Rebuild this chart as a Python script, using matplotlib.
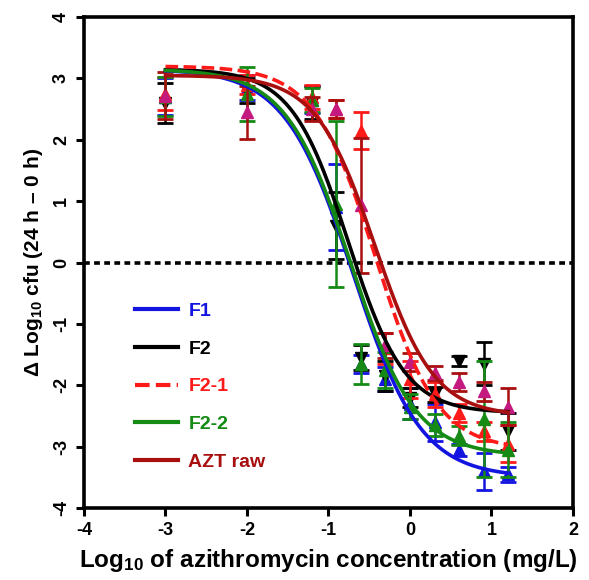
import numpy as np
import matplotlib.pyplot as plt
from matplotlib.lines import Line2D

plt.rcParams['font.family'] = ['Liberation Sans', 'DejaVu Sans']
plt.rcParams['font.weight'] = 'bold'
plt.rcParams['mathtext.fontset'] = 'custom'
plt.rcParams['mathtext.rm'] = 'Liberation Sans:bold'
plt.rcParams['mathtext.default'] = 'rm'
plt.rcParams['axes.unicode_minus'] = False

# azithromycin concentrations (mg/L)
conc = [0.001, 0.01, 0.0625, 0.125, 0.25, 0.5, 1, 2, 4, 8, 16]

names = ['F1', 'F2', 'F2-1', 'F2-2', 'AZT raw']

# mean delta log10 cfu and SD
f1_mean = [2.7, 2.85, 2.65, 0.9, -1.65, -1.9, -2.3, -2.6, -3.05, -3.4, -3.45]
f1_sd = [0.3, 0.2, 0.22, 0.7, 0.15, 0.2, 0.25, 0.3, 0.1, 0.3, 0.12]
f2_mean = [2.6, 2.8, 2.6, 0.6, -1.55, -1.85, -2.2, -2.15, -1.6, -1.65, -2.75]
f2_sd = [0.33, 0.2, 0.27, 0.55, 0.2, 0.25, 0.15, 0.12, 0.08, 0.35, 0.3]
f21_mean = [2.75, 2.9, 2.7, 2.5, 2.15, -1.4, -1.9, -2.15, -2.45, -2.75, -2.95]
f21_sd = [0.27, 0.15, 0.2, 0.15, 0.3, 0.25, 0.3, 0.2, 0.15, 0.15, 0.3]
f22_mean = [2.7, 2.75, 2.65, 0.95, -1.65, -1.75, -2.35, -2.65, -2.82, -2.55, -3.05]
f22_sd = [0.32, 0.44, 0.2, 1.35, 0.33, 0.3, 0.2, 0.18, 0.15, 0.95, 0.45]
azt_mean = [2.72, 2.45, 2.5, 2.5, 0.93, -1.35, -1.62, -1.8, -1.95, -2.1, -2.35]
azt_sd = [0.38, 0.43, 0.2, 0.15, 1.1, 0.2, 0.15, 0.12, 0.15, 0.15, 0.3]

# sigmoid Emax (Hill) fit parameters per formulation
top = [3.15, 3.15, 3.2, 3.15, 3.05]
bottom = [-3.5, -2.45, -3.05, -3.15, -2.5]
log_ec50 = [-0.70, -0.76, -0.42, -0.73, -0.43]
hill = [1.04, 1.25, 1.15, 1.09, 1.2]


def hill_curve(x, t, b, c, h):
    return b + (t - b) / (1 + 10 ** ((x - c) * h))


def main():
    x = np.log10(conc)
    means = [f1_mean, f2_mean, f21_mean, f22_mean, azt_mean]
    sds = [f1_sd, f2_sd, f21_sd, f22_sd, azt_sd]
    line_colors = ['#1414e0', '#000000', '#ff1a1a', '#158a15', '#a80f0f']
    marker_colors = ['#1414e0', '#000000', '#ff1a1a', '#158a15', '#c41a80']
    markers = ['^', 'v', '^', '^', '^']
    styles = ['-', '-', (0, (3.5, 1.5)), '-', '-']

    fig = plt.figure(figsize=(5.89, 5.80), dpi=100)
    ax = fig.add_axes([0.1426, 0.1241, 0.8302, 0.8466])

    ax.axhline(0, color='black', linewidth=2.6, linestyle=(0, (1.6, 1.2)), zorder=1)

    xf = np.linspace(x[0], x[-1], 300)
    handles = []
    for i in range(len(names)):
        ax.errorbar(x, means[i], yerr=sds[i], fmt='none', ecolor=line_colors[i],
                    elinewidth=1.8, capsize=6, capthick=2, zorder=2 + i)
        ax.plot(x, means[i], linestyle='none', marker=markers[i], markersize=8,
                color=marker_colors[i], zorder=2 + i)
        yf = hill_curve(xf, top[i], bottom[i], log_ec50[i], hill[i])
        ax.plot(xf, yf, color=line_colors[i], linestyle=styles[i], linewidth=2.6,
                zorder=8 + i)
        handles.append(Line2D([], [], color=line_colors[i], linestyle=styles[i],
                              linewidth=3, label=names[i]))

    ax.set_xlim(-4, 2)
    ax.set_ylim(-4, 4)
    ax.set_xticks(np.arange(-4, 3, 1))
    ax.set_yticks(np.arange(-4, 5, 1))
    ax.tick_params(direction='out', length=6, width=2.2, labelsize=13, pad=4)
    for lab in ax.get_yticklabels():
        lab.set_rotation(90)
        lab.set_va('center')
    for s in ax.spines.values():
        s.set_linewidth(2.6)

    ax.set_xlabel('Log$_{10}$ of azithromycin concentration (mg/L)', fontsize=17.5,
                  fontweight='bold', labelpad=6)
    ax.set_ylabel('\u0394 Log$_{10}$ cfu (24 h \u2013 0 h)', fontsize=15,
                  fontweight='bold', labelpad=6)

    leg = ax.legend(handles=handles, loc='center left', bbox_to_anchor=(0.104, 0.2474),
                    frameon=False, fontsize=14, handlelength=2.2, handletextpad=0.55,
                    labelspacing=1.03, borderpad=0, borderaxespad=0)
    for txt, c in zip(leg.get_texts(), line_colors):
        txt.set_color(c)
        txt.set_fontweight('bold')

    fig.savefig('out.png', dpi=100)


if __name__ == '__main__':
    main()
